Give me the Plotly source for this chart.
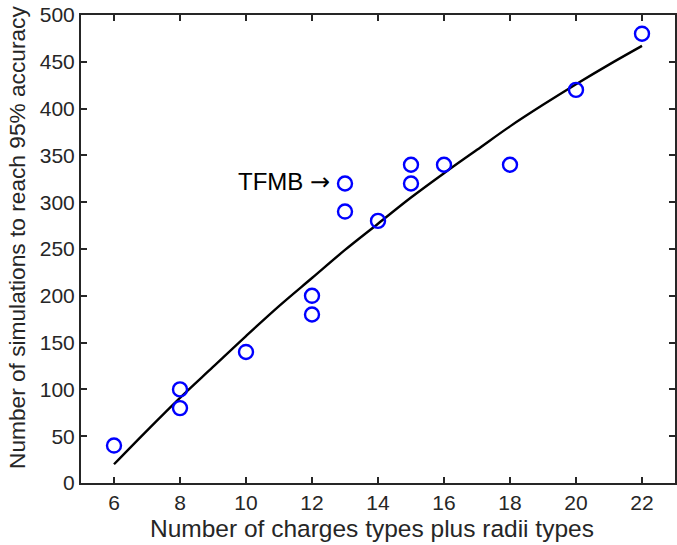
import plotly.graph_objects as go

# Measured samples: parameter count vs. simulations needed for 95% accuracy
n_types = [6, 8, 8, 10, 12, 12, 13, 13, 14, 15, 15, 16, 18, 20, 22]
n_sims = [40, 100, 80, 140, 200, 180, 320, 290, 280, 340, 320, 340, 340, 420, 480]

# Trend curve
trend_x = [6, 7, 8, 9, 10, 11, 12, 13, 14, 15, 16, 17, 18, 19, 20, 21, 22]
trend_y = [20, 56, 91, 124, 157, 189, 219, 249, 277, 305, 331, 356, 381, 404, 426, 447, 467]

x_ticks = [6, 8, 10, 12, 14, 16, 18, 20, 22]
y_ticks = [0, 50, 100, 150, 200, 250, 300, 350, 400, 450, 500]

axis_col = "#262626"
font_fam = "Liberation Sans, Arial, sans-serif"

fig = go.Figure()
fig.add_trace(go.Scatter(
    x=trend_x, y=trend_y, mode="lines",
    line=dict(color="black", width=2.4, shape="spline"),
    showlegend=False, hoverinfo="skip",
))
fig.add_trace(go.Scatter(
    x=n_types, y=n_sims, mode="markers",
    marker=dict(symbol="circle-open", size=14, color="#0000ff", line=dict(width=2.4, color="#0000ff")),
    showlegend=False,
))

# Label pointing at the TFMB point
fig.add_annotation(
    x=12.62, y=322, xref="x", yref="y",
    text="TFMB <span style='font-family:DejaVu Sans;font-size:24px'>\u2192</span>",
    showarrow=False, xanchor="right", yanchor="middle",
    font=dict(family=font_fam, size=24, color="black"),
)

# Axis titles
fig.add_annotation(
    x=(372 - 81) / 594, y=-0.098, xref="paper", yref="paper",
    text="Number of charges types plus radii types", showarrow=False,
    xanchor="center", yanchor="middle",
    font=dict(family=font_fam, size=24.5, color=axis_col),
)
fig.add_annotation(
    x=(17 - 81) / 594, y=(483 - 238) / 468, xref="paper", yref="paper",
    text="Number of simulations to reach 95% accuracy", showarrow=False, textangle=-90,
    xanchor="center", yanchor="middle",
    font=dict(family=font_fam, size=22.7, color=axis_col),
)

axis_common = dict(
    showgrid=False, zeroline=False, showline=True, linecolor=axis_col, linewidth=2,
    mirror="ticks", ticks="inside", ticklen=6, tickwidth=2, tickcolor=axis_col,
    tickfont=dict(family=font_fam, size=21, color=axis_col),
)

fig.update_xaxes(range=[5, 23], tickvals=x_ticks, ticktext=[str(v) for v in x_ticks], **axis_common)
fig.update_yaxes(range=[0, 500], tickvals=y_ticks, ticktext=[str(v) for v in y_ticks], **axis_common)

fig.update_layout(
    width=677, height=545,
    margin=dict(l=81, r=2, t=15, b=62, autoexpand=False),
    plot_bgcolor="white", paper_bgcolor="white",
)

fig.write_html("out.html")
